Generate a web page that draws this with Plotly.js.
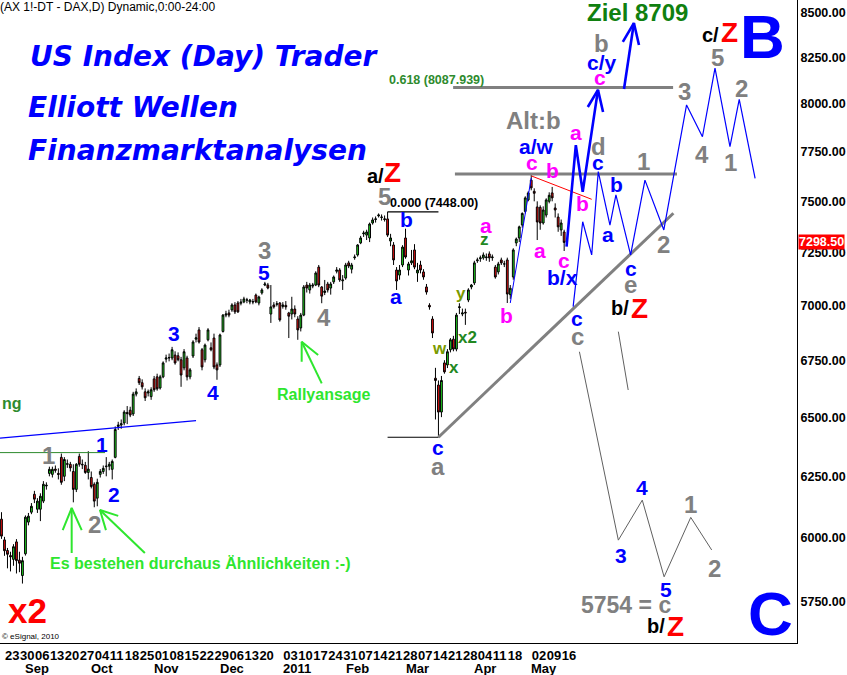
<!DOCTYPE html>
<html><head><meta charset="utf-8">
<script src="https://cdn.plot.ly/plotly-3.0.1.min.js"></script>
<style>html,body{margin:0;padding:0;background:#fff}#chart{width:847px;height:675px}</style>
</head><body><div id="chart"></div>
<script>
// ---------- DATA ----------
const holidays = ['2010-12-24','2010-12-31','2011-04-22','2011-04-25'];
const dayOpen = [
6115,6120,6195,6180,6075,5992,5950,5930,5915,5984,
5912,5852,5937,6063,6103,6176,6115,6115,6148,6210,
6262,6258,6280,6262,6329,6250,6300,6300,6270,6196,
6333,6300,6296,6266,6245,6217,6160,6258,6270,6290,
6292,6279,6329,6460,6466,6475,6520,6530,6514,6600,
6669,6650,6610,6605,6589,6667,6676,6627,6676,6755,
6760,6760,6773,6770,6752,6716,6760,6676,6769,6845,
6887,6797,6752,6842,6806,6850,6729,6729,6880,6955,
6965,6979,7002,7011,7010,7016,7025,7016,7018,7048,
7011,7058,7095,7095,6960,7002,7005,7011,6995,7000,
6965,6960,6983,6937,6896,6955,7095,7072,7090,7095,
7180,7086,7060,7100,7081,7110,7160,7166,7115,7128,
7200,7170,7225,7238,7296,7340,7334,7320,7393,7410,
7428,7420,7410,7413,7305,7286,7166,7142,7190,7320,
7166,7200,7262,7152,7190,7157,7086,7000,6937,6670,
6640,6522,6738,6729,6797,6845,6800,6990,6960,6968,
7025,7086,7105,7210,7220,7224,7225,7243,7225,7180,
7157,7214,7195,7214,7050,7133,7296,7320,7383,7450,
7507,7606,7550,7472,7470,7393,7432,7500,7542,7467,
7422,7359,7349];
const dayHigh = [
6150,6205,6215,6190,6103,6004,5960,5945,5975,5995,
5945,5925,6090,6100,6140,6190,6160,6180,6230,6225,
6290,6290,6295,6283,6345,6330,6320,6310,6300,6305,
6345,6320,6310,6355,6270,6225,6240,6280,6295,6330,
6310,6320,6460,6480,6490,6530,6548,6545,6610,6625,
6680,6665,6625,6620,6630,6680,6690,6685,6745,6775,
6780,6810,6790,6785,6765,6800,6770,6715,6840,6870,
6900,6805,6825,6895,6830,6870,6740,6870,6960,6975,
6980,7010,7015,7020,7030,7040,7035,7030,7030,7055,
7045,7080,7110,7105,7095,7015,7020,7015,7015,7020,
6970,7040,7000,6950,6965,7095,7110,7105,7105,7160,
7190,7090,7119,7110,7110,7140,7180,7175,7142,7200,
7210,7200,7240,7290,7330,7355,7360,7395,7420,7425,
7440,7435,7430,7448,7340,7300,7180,7190,7285,7365,
7205,7262,7290,7200,7210,7170,7100,7010,6950,6716,
6660,6680,6750,6800,6850,6860,6965,7010,6985,6985,
7080,7100,7210,7225,7235,7250,7245,7255,7240,7190,
7205,7225,7210,7225,7095,7270,7322,7380,7445,7525,
7550,7632,7565,7500,7480,7475,7515,7545,7572,7490,
7440,7410,7360];
const dayLow = [
6085,6110,6165,6065,5996,5929,5880,5868,5890,5860,
5865,5821,5930,6050,6095,6140,6100,6067,6140,6195,
6250,6245,6265,6237,6215,6230,6285,6270,6143,6185,
6290,6280,6260,6237,6200,6123,6127,6245,6260,6250,
6275,6237,6325,6445,6450,6465,6470,6500,6505,6590,
6640,6620,6570,6590,6575,6610,6615,6620,6670,6740,
6745,6750,6730,6745,6632,6705,6660,6665,6760,6830,
6825,6705,6740,6835,6790,6710,6663,6720,6875,6945,
6945,6970,6960,6965,7000,7010,7010,7005,7005,7010,
7000,7050,7090,7075,6919,6985,6995,6925,6985,6980,
6850,6935,6945,6842,6880,6950,7060,7055,7080,7090,
7085,7010,7048,7060,7050,7100,7150,7110,7072,7120,
7175,7150,7215,7230,7290,7325,7310,7300,7385,7395,
7420,7405,7400,7325,7280,7190,7072,7120,7180,7220,
7140,7190,7170,7110,7150,7120,7050,6980,6850,6490,
6414,6500,6690,6715,6785,6790,6790,6960,6950,6910,
7015,7075,7095,7200,7205,7215,7210,7205,7210,7125,
7145,7190,7180,7011,7030,7120,7280,7300,7370,7440,
7500,7555,7500,7310,7360,7385,7420,7490,7500,7420,
7350,7330,7257];
const dayClose = [
6120,6195,6180,6080,6007,5949,5935,5925,5965,5910,
5900,5910,6083,6087,6127,6156,6148,6168,6217,6213,
6279,6279,6275,6258,6225,6320,6302,6285,6196,6300,
6300,6298,6266,6280,6208,6148,6225,6270,6283,6292,
6300,6312,6447,6466,6472,6522,6515,6509,6600,6610,
6650,6632,6584,6610,6619,6619,6623,6676,6738,6760,
6762,6797,6738,6752,6684,6788,6676,6707,6832,6851,
6832,6720,6818,6887,6797,6720,6707,6864,6955,6960,
6955,7002,6970,6970,7015,7030,7025,7025,7016,7016,
7039,7072,7100,7081,6993,6993,7007,6933,7002,6993,
6950,6983,6960,6887,6955,7086,7081,7095,7095,7152,
7095,7043,7067,7072,7100,7133,7166,7119,7119,7190,
7185,7190,7228,7286,7320,7344,7349,7388,7408,7413,
7432,7422,7413,7334,7320,7214,7114,7166,7276,7228,
7195,7210,7180,7166,7166,7133,7062,6993,6873,6660,
6522,6660,6698,6788,6842,6800,6955,6993,6965,6965,
7072,7095,7200,7214,7224,7238,7228,7224,7228,7133,
7195,7200,7195,7053,7080,7262,7315,7374,7440,7517,
7542,7567,7540,7398,7393,7457,7507,7530,7517,7457,
7374,7393,7298.5];
const lastPrice = 7298.5;
const priceTicks = [5750,6000,6250,6500,6750,7000,7250,7500,7750,8000,8250,8500];
const monthKeys = ['2010-09','2010-10','2010-11','2010-12','2011-01','2011-02','2011-03','2011-04','2011-05'];
const monthLabels = ['Sep','Oct','Nov','Dec','2011','Feb','Mar','Apr','May'];
const skipWeekLabels = ['2010-12-27','2011-04-25'];

// drawn analysis lines (x = trading-day index, y = price)
const trendX=[145,223.5], trendY=[6414,7441];
const fibX=[149.9,223.4], fibY=[8087.939,8087.939];
const topLineX=[150.5,224.7], topLineY=[7637,7637];
const highMarkX=[128,145], highMarkY=[7448,7448];
const lowMarkX=[128,145], lowMarkY=[6414,6414];
const greenLevelX=[-2,33.6], greenLevelY=[6349,6349];
const blueTrendX=[-1.5,64], blueTrendY=[6410,6485];
const redLineX=[176.1,196.2], redLineY=[7627,7510];
const riseX=[169,176], riseY=[7011,7617];
const thickPathX=[187.8,190.9,193.2,198.3], thickPathY=[7278,7785,7548,8075];
const head1X=[194.9,198.3,200], head1Y=[7984,8075,7958];
const arrow2X=[207,210.3], arrow2Y=[8080,8441];
const head2X=[206.6,210.3,212], head2Y=[8336,8441,8319];
const bullPathX=[190.0,193.2,196.2,198.4,202.3,204.3,209.2,214.0,220.3,227.9,233.2,237.4,242.4,245.5,250.8];
const bullPathY=[6994,7399,7238,7649,7383,7532,7238,7606,7359,7995,7828,8192,7777,8025,7615];
const bearPathX=[192.1,205.1,213.1,220.4,229.3,236.3];
const bearPathY=[6788,5991,6152,5847,6082,5952];
const bearStubX=[205.1,208.4], bearStubY=[6879,6618];
const arrowAX=[22.45,22.45], arrowAY=[5940,6120];
const headAX=[19.45,22.45,25.8], headAY=[6031,6120,6031];
const arrowBX=[46.9,31.9], arrowBY=[5940,6112];
const headBX=[38.0,31.9,33.9], headBY=[6088,6112,6031];
const arrowCX=[106.0,99.3], arrowCY=[6647,6833];
const headCX=[99.3,99.3,104.8], headCY=[6743,6833,6773];

// ---------- BUILD ----------
const tradingDates=[];
for(let d=new Date(Date.UTC(2010,7,16)); d<=new Date(Date.UTC(2011,4,17)); d.setUTCDate(d.getUTCDate()+1)){
  const wd=d.getUTCDay(); const s=d.toISOString().slice(0,10);
  if(wd===0||wd===6||holidays.includes(s)) continue;
  tradingDates.push(s);
}
const zeroIdx=tradingDates.indexOf('2010-08-23');
const xs=tradingDates.map((_,i)=>i-zeroIdx);
function mondayOf(s){const d=new Date(s+'T00:00:00Z');const wd=d.getUTCDay();d.setUTCDate(d.getUTCDate()-(wd-1));return d.toISOString().slice(0,10);}
const weekTickX=[], weekTickText=[];
let prevMon=null;
tradingDates.forEach((s,i)=>{const m=mondayOf(s); if(m!==prevMon){prevMon=m; if(!skipWeekLabels.includes(m)){weekTickX.push(xs[i]); weekTickText.push(m.slice(8,10));}}});
const monthX=monthKeys.map(k=>xs[tradingDates.findIndex(s=>s.startsWith(k))]);

const FONT='Liberation Sans, Arial, sans-serif';
const PW=797, PH=643;
function lab(text,px,py,color,size,opt){
  opt=opt||{};
  return {xref:'paper',yref:'paper',x:px/PW,y:1-py/PH,text:text,showarrow:false,
    xanchor:opt.xanchor||'center',yanchor:'middle',
    font:{family:opt.family||FONT,size:size,color:color,weight:opt.weight||'bold',style:opt.style||'normal'}};
}
const BL='#0000ff', GR='#808080', PK='#ff00ff', RD='#ff0000', BK='#000000', LG='#2ee62e', DG='#2e8b2e', OL='#7a9a00', XG='#228822';

function line(x,y,color,width){return {type:'scatter',mode:'lines',x:x,y:y,line:{color:color,width:width},hoverinfo:'skip',showlegend:false};}

const traces=[
 {type:'candlestick',x:xs,open:dayOpen,high:dayHigh,low:dayLow,close:dayClose,
  increasing:{line:{color:'#000',width:1},fillcolor:'#22dd22'},
  decreasing:{line:{color:'#000',width:1},fillcolor:'#ee1111'},
  whiskerwidth:0,hoverinfo:'skip',showlegend:false},
 line(greenLevelX,greenLevelY,DG,1),
 line(blueTrendX,blueTrendY,BL,1.3),
 line(highMarkX,highMarkY,BK,1.2),
 line(lowMarkX,lowMarkY,BK,1.2),
 line(trendX,trendY,GR,3),
 line(fibX,fibY,GR,3),
 line(topLineX,topLineY,GR,3),
 line(redLineX,redLineY,RD,1),
 line(riseX,riseY,BL,1),
 line(bullPathX,bullPathY,BL,1.2),
 line(bearPathX,bearPathY,'#606060',1),
 line(bearStubX,bearStubY,'#606060',1),
 line(thickPathX,thickPathY,BL,2.6),
 line(head1X,head1Y,BL,2.6),
 line(arrow2X,arrow2Y,BL,2.6),
 line(head2X,head2Y,BL,2.6),
 line(arrowAX,arrowAY,LG,2), line(headAX,headAY,LG,2),
 line(arrowBX,arrowBY,LG,2), line(headBX,headBY,LG,2),
 line(arrowCX,arrowCY,LG,2), line(headCX,headCY,LG,2)
];

const ann=[
 lab('(AX 1!-DT - DAX,D) Dynamic,0:00-24:00',-2,7,BK,12,{xanchor:'left',weight:'normal'}),
 lab('US Index (Day) Trader',28,57,BL,28,{xanchor:'left',family:'DejaVu Sans',style:'italic'}),
 lab('Elliott Wellen',26,108,BL,28,{xanchor:'left',family:'DejaVu Sans',style:'italic'}),
 lab('Finanzmarktanalysen',26,150,BL,28,{xanchor:'left',family:'DejaVu Sans',style:'italic'}),
 lab('0.618 (8087.939)',387,80,DG,12.5,{xanchor:'left'}),
 lab('Ziel 8709',637,12,'#108010',24),
 lab('ng',0,403,DG,16,{xanchor:'left'}),
 lab('x2',27,610,RD,35),
 lab('© eSignal, 2010',0,636,BK,8,{xanchor:'left',weight:'normal'}),
 lab('Es bestehen durchaus Ähnlichkeiten :-)',48,563,LG,16,{xanchor:'left'}),
 lab('Rallyansage',323,394,LG,16),
 lab('1',48,455,GR,24), lab('1',102,444,BL,21), lab('2',114,494,BL,21), lab('2',94,524,GR,24),
 lab('3',174,333,BL,21), lab('4',213,392,BL,21), lab('5',264,273,BL,21), lab('3',264,251,GR,24), lab('4',324,317,GR,24),
 lab('5',384,196,GR,24),
 lab('a/',375,176,BK,20), lab('Z',392,172,RD,28),
 lab('0.000 (7448.00)',388,203,BK,12.5,{xanchor:'left'}),
 lab('b',406,219,BL,21), lab('a',396,297,BL,21),
 lab('c',438,447,BL,21), lab('a',438,466,GR,24),
 lab('w',439,348,OL,17), lab('x',454,367,XG,17), lab('x2',468,337,XG,17), lab('y',461,293,OL,17), lab('z',485,240,XG,17),
 lab('a',486,225,PK,21), lab('b',507,316,PK,21), lab('c',532,162,PK,21),
 lab('a/w',536,146,BL,21), lab('Alt:b',533,121,GR,24),
 lab('b',552,171,PK,21), lab('a',540,251,PK,21), lab('c',564,260,PK,21), lab('b/x',562,278,BL,21),
 lab('a',576,132,PK,21), lab('b',582,203,PK,21), lab('c',600,78,PK,21),
 lab('c/y',602,62,BL,21), lab('b',601,43,GR,24),
 lab('d',598,147,GR,24), lab('c',598,162,BL,21), lab('b',616,185,BL,21), lab('a',608,234,BL,21),
 lab('1',643,161,GR,24), lab('c',631,268,BL,21), lab('e',630,285,GR,24),
 lab('b/',620,308,BK,20), lab('Z',639,308,RD,28),
 lab('2',663,245,GR,24), lab('3',684,91,GR,24), lab('4',702,154,GR,24), lab('5',717,58,GR,24), lab('1',730,162,GR,24), lab('2',741,89,GR,24),
 lab('c/',710,35,BK,20), lab('Z',729,33,RD,28),
 lab('B',762,36,BL,62),
 lab('c',577,318,BL,21), lab('c',577,336,GR,24),
 lab('3',621,555,BL,21), lab('4',642,487,BL,21), lab('5',666,589,BL,21), lab('1',690,504,GR,24), lab('2',714,568,GR,24),
 lab('5754 = c',626,605,GR,23),
 lab('b/',656,626,BK,20), lab('Z',675,626,RD,28),
 lab('C',770,613,BL,62),
 {xref:'paper',yref:'y',x:1,y:Math.log10(lastPrice),xanchor:'left',yanchor:'middle',showarrow:false,
  text:lastPrice.toFixed(2),bgcolor:'#ff0000',borderpad:0,xshift:1,
  font:{family:FONT,size:12.5,color:'#ffffff',weight:'bold'}}
];
monthLabels.forEach((m,i)=>{
  ann.push({xref:'x',yref:'paper',x:monthX[i],y:-25/PH,xanchor:'left',yanchor:'middle',showarrow:false,text:m,
    xshift:-2,font:{family:FONT,size:13,color:'#000',weight:'bold'}});
});

const layout={
 width:847,height:675,margin:{l:0,r:50,t:0,b:32},paper_bgcolor:'#fff',plot_bgcolor:'#fff',
 showlegend:false,dragmode:false,
 xaxis:{range:[-1.5,264.8],tickmode:'array',tickvals:weekTickX,ticktext:weekTickText,tickangle:0,
   ticklabelposition:'outside right',ticks:'',showgrid:false,zeroline:false,showline:true,linecolor:'#000',linewidth:1,
   tickfont:{family:FONT,size:13,color:'#000',weight:'bold'},rangeslider:{visible:false},fixedrange:true},
 yaxis:{type:'log',range:[Math.log10(5596),Math.log10(8571)],side:'right',tickmode:'array',tickvals:priceTicks,
   ticktext:priceTicks.map(v=>v.toFixed(2)),ticks:'',showgrid:false,zeroline:false,showline:true,linecolor:'#000',linewidth:1,
   tickfont:{family:FONT,size:12.5,color:'#000',weight:'bold'},fixedrange:true},
 boxgap:0.15,
 annotations:ann
};
Plotly.newPlot('chart',traces,layout,{displayModeBar:false,staticPlot:true});
</script></body></html>
